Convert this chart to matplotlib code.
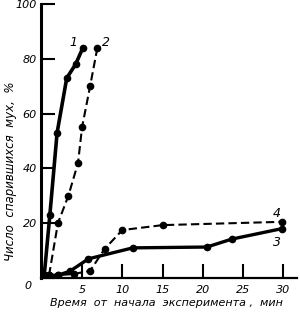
import matplotlib.pyplot as plt

# time, min / share of mated flies, %
x1 = [0.3, 1.0, 1.9, 3.1, 4.2, 5.1]
y1 = [1, 23, 53, 73, 78, 84]

x2 = [0.9, 2.0, 3.3, 4.5, 5.0, 6.0, 6.9]
y2 = [1, 20, 30, 42, 55, 70, 84]

x3 = [0.3, 2.0, 3.5, 5.8, 11.3, 20.5, 23.6, 29.8]
y3 = [1, 1, 2.5, 7, 11, 11.3, 14.2, 18]

x4 = [0.9, 2.0, 4.0, 6.0, 7.8, 10.0, 15.0, 29.8]
y4 = [1, 1, 1.5, 2.6, 10.6, 17.5, 19.3, 20.5]

xticks = [0, 5, 10, 15, 20, 25, 30]
yticks = [0, 20, 40, 60, 80, 100]

fig = plt.figure(figsize=(3.0, 3.17), dpi=100)
ax = fig.add_axes([41 / 300, 1 - 278 / 317, 256 / 300, 274 / 317])

ax.plot(x1, y1, color='black', lw=2.6, marker='o', ms=4.5)
ax.plot(x2, y2, color='black', lw=1.5, ls=(0, (4, 2)), marker='o', ms=4.5)
ax.plot(x3, y3, color='black', lw=2.4, marker='o', ms=4.5)
ax.plot(x4, y4, color='black', lw=1.5, ls=(0, (4, 2)), marker='o', ms=4.5)

ax.set_xlim(-0.1, 31.7)
ax.set_ylim(0, 100)
ax.spines['top'].set_visible(False)
ax.spines['right'].set_visible(False)
ax.spines['left'].set_linewidth(2.2)
ax.spines['bottom'].set_linewidth(1.6)

ax.set_xticks(xticks)
ax.set_yticks(yticks)
ax.set_xticklabels(['', '5', '10', '15', '20', '25', '30'])
ax.set_yticklabels(['', '20', '40', '60', '80', '100'])
ax.tick_params(axis='both', direction='in', length=10, width=1.5, labelsize=8)
ax.tick_params(axis='y', pad=3)
ax.tick_params(axis='x', pad=5)
for lab in ax.get_xticklabels() + ax.get_yticklabels():
    lab.set_fontstyle('italic')
ax.text(-0.035, -0.01, '0', transform=ax.transAxes, ha='right', va='top',
        fontsize=8, style='italic')

ax.text(3.9, 86, '1', fontsize=9, style='italic', ha='center', va='center')
ax.text(8.0, 86, '2', fontsize=9, style='italic', ha='center', va='center')
ax.text(29.2, 23.7, '4', fontsize=9, style='italic', ha='center', va='center')
ax.text(29.2, 13.0, '3', fontsize=9, style='italic', ha='center', va='center')

fig.text(0.555, 0.035, 'Время  от  начала  эксперимента ,  мин', ha='center',
         fontsize=8, style='italic')
fig.text(0.035, 0.46, 'Число  спарившихся  мух,  %', rotation=90, ha='center',
         va='center', fontsize=8.5, style='italic')

fig.savefig('out.png', dpi=100)
